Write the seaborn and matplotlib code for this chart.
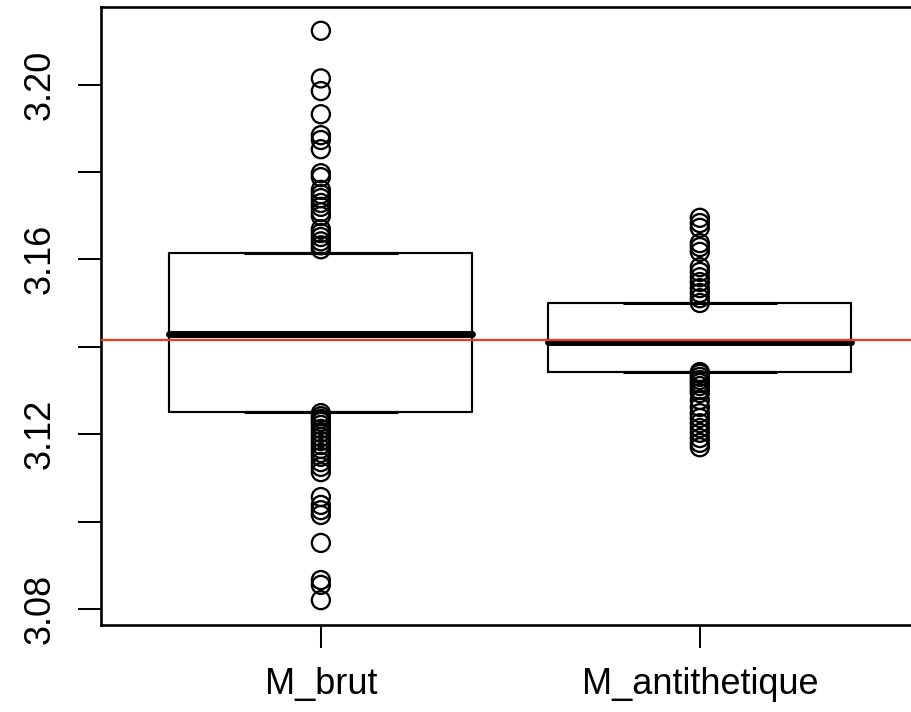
import matplotlib
matplotlib.use("Agg")
import matplotlib.pyplot as plt
import seaborn as sns
import pandas as pd
import numpy as np

# ---- data ----
categories = ["M_brut", "M_antithetique"]
q1 = [3.1250, 3.1343]
medians = [3.1428, 3.1411]
q3 = [3.1614, 3.1499]

out_brut = [3.2123, 3.2014, 3.1985, 3.1932, 3.1884, 3.1873, 3.1852,
            3.1797, 3.1788, 3.1759, 3.1749, 3.1740, 3.1729, 3.1720,
            3.1708, 3.1699, 3.1669, 3.1660, 3.1651, 3.1641, 3.1632, 3.1623,
            3.1248, 3.1241, 3.1235, 3.1228, 3.1221, 3.1212, 3.1203, 3.1193,
            3.1184, 3.1175, 3.1166, 3.1157, 3.1148, 3.1136, 3.1125, 3.1113,
            3.1056, 3.1038, 3.1026, 3.1015, 3.0951, 3.0866, 3.0855, 3.0820]
out_anti = [3.1695, 3.1683, 3.1672, 3.1637, 3.1628, 3.1617, 3.1582,
            3.1571, 3.1559, 3.1548, 3.1534, 3.1523, 3.1511, 3.1500,
            3.1342, 3.1338, 3.1331, 3.1324, 3.1317, 3.1310, 3.1301, 3.1294,
            3.1278, 3.1262, 3.1248, 3.1237, 3.1225, 3.1214, 3.1203, 3.1191,
            3.1180, 3.1170]
ref_value = np.pi
y_ticks = [3.08, 3.10, 3.12, 3.14, 3.16, 3.18, 3.20]
y_labels = ["3.08", "", "3.12", "", "3.16", "", "3.20"]

# ---- tables ----
box_methods, box_values = [], []
for i, c in enumerate(categories):
    vals = [q1[i], q1[i], medians[i], q3[i], q3[i]]
    box_methods += [c] * len(vals)
    box_values += vals
box_df = pd.DataFrame({"method": box_methods, "value": box_values})

pts_df = pd.DataFrame({
    "method": ["M_brut"] * len(out_brut) + ["M_antithetique"] * len(out_anti),
    "value": out_brut + out_anti,
})

sns.set_theme(style="white")
plt.rcParams["font.family"] = ["Liberation Sans", "DejaVu Sans"]

W, H = 911, 712
fig = plt.figure(figsize=(W / 100, H / 100), dpi=100)
left, right, top, bottom = 100.7, 920.0, 7.3, 625.0
ax = fig.add_axes([left / W, 1 - bottom / H, (right - left) / W, (bottom - top) / H])

sns.boxplot(data=box_df, x="method", y="value", order=categories, whis=0,
            width=0.8, showfliers=False, fill=False, color="black",
            linewidth=1.55,
            medianprops=dict(linewidth=5.0, solid_capstyle="round", color="black"),
            capprops=dict(linewidth=2.2, color="black"),
            ax=ax)

sns.stripplot(data=pts_df, x="method", y="value", order=categories,
              jitter=False, size=13, marker="o", facecolor="none",
              edgecolor="black", linewidth=1.65, ax=ax, zorder=4)
for coll in ax.collections:
    coll.set_facecolor("none")

ax.axhline(ref_value, color="#f0391f", lw=1.6, zorder=5)

ax.set_xlim(-0.581, 1.581)
ax.set_ylim(3.07632, 3.21767)
ax.set_yticks(y_ticks)
ax.set_yticklabels(y_labels, rotation=90, va="center")
ax.set_xlabel("")
ax.set_ylabel("")
ax.grid(False)
for s in ax.spines.values():
    s.set_visible(True)
    s.set_color("black")
    s.set_linewidth(1.9)
ax.tick_params(axis="both", which="both", length=16.3, width=1.45,
               color="black", labelsize=26, labelcolor="black",
               left=True, bottom=True)
ax.tick_params(axis="y", pad=15)
ax.tick_params(axis="x", pad=14)

fig.savefig("out.png", dpi=100)
